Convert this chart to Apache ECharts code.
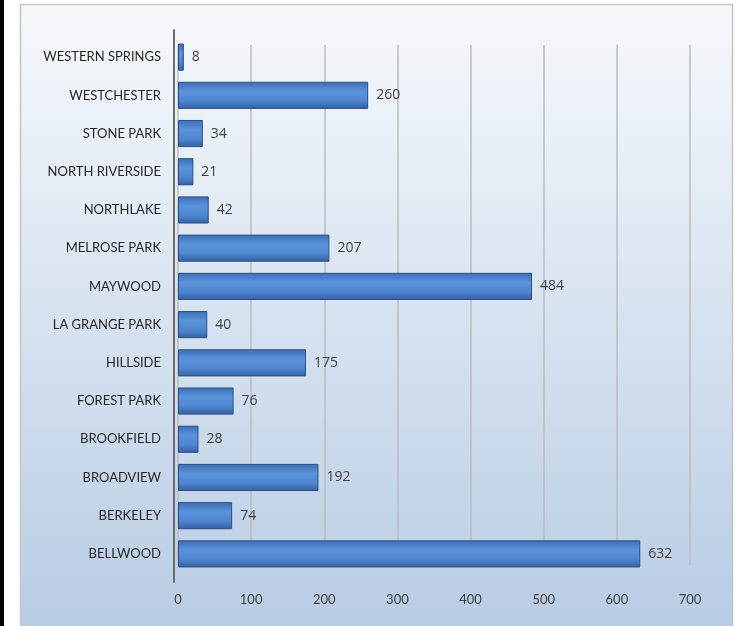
<!DOCTYPE html>
<html><head><meta charset="utf-8">
<script src="https://cdn.jsdelivr.net/npm/echarts@6/dist/echarts.min.js"></script>
<style>html,body{margin:0;padding:0;background:#fff;}#c{width:740px;height:626px;}</style>
</head><body><div id="c"></div>
<script>
const categories = ['BELLWOOD','BERKELEY','BROADVIEW','BROOKFIELD','FOREST PARK','HILLSIDE','LA GRANGE PARK','MAYWOOD','MELROSE PARK','NORTHLAKE','NORTH RIVERSIDE','STONE PARK','WESTCHESTER','WESTERN SPRINGS'];
const values = [632,74,192,28,76,175,40,484,207,42,21,34,260,8];
const xTicks = [0,100,200,300,400,500,600,700];

const chart = echarts.init(document.getElementById('c'));
chart.setOption({
  backgroundColor: '#fff',
  animation: false,
  graphic: [
    {type:'rect', shape:{x:0,y:0,width:4,height:626}, style:{fill:'#000'}, z:-10},
    {type:'rect', shape:{x:20.5,y:4.5,width:712,height:624},
     style:{fill:new echarts.graphic.LinearGradient(0,0,0,1,[{offset:0,color:'#f6f9fc'},{offset:1,color:'#b8cce4'}]), stroke:'#c4c4c4', lineWidth:1.5}, z:-10}
  ],
  grid: [
    {left:178, right:50, top:38, bottom:53},
    {left:178, right:50, top:45, bottom:61},
    {left:174, right:50, top:30, bottom:44}
  ],
  xAxis: [
    {type:'value', gridIndex:0, min:0, max:700, interval:100,
     axisLine:{show:false}, axisTick:{show:false},
     axisLabel:{color:'#404040', fontSize:13, fontFamily:'Lato', margin:20},
     splitLine:{show:false}},
    {type:'value', gridIndex:1, min:0, max:700, interval:100,
     axisLine:{show:false}, axisTick:{show:false}, axisLabel:{show:false},
     splitLine:{show:true, lineStyle:{color:'#bcbcbc', width:1.5}}},
    {type:'value', gridIndex:2, min:0, max:700, show:false}
  ],
  yAxis: [
    {type:'category', gridIndex:0, data:categories,
     axisLine:{show:false}, axisTick:{show:false},
     axisLabel:{color:'#262626', fontSize:13, fontFamily:'Lato', margin:17}},
    {type:'category', gridIndex:1, data:categories, show:false},
    {type:'category', gridIndex:2, data:categories,
     axisLine:{show:true, lineStyle:{color:'#6b6b6b', width:2}}, axisTick:{show:false}, axisLabel:{show:false}}
  ],
  series: [{
    type:'bar', xAxisIndex:0, yAxisIndex:0, data:values, barWidth:'71%',
    itemStyle:{
      color:new echarts.graphic.LinearGradient(0,0,0,1,[{offset:0,color:'#3c6db5'},{offset:0.35,color:'#5a92dc'},{offset:0.7,color:'#4f86d0'},{offset:1,color:'#355f9e'}]),
      borderColor:'#2c4f85', borderWidth:1
    },
    label:{show:true, position:'right', distance:8, color:'#404040', fontSize:14, fontFamily:'Open Sans'}
  }]
});
</script></body></html>
